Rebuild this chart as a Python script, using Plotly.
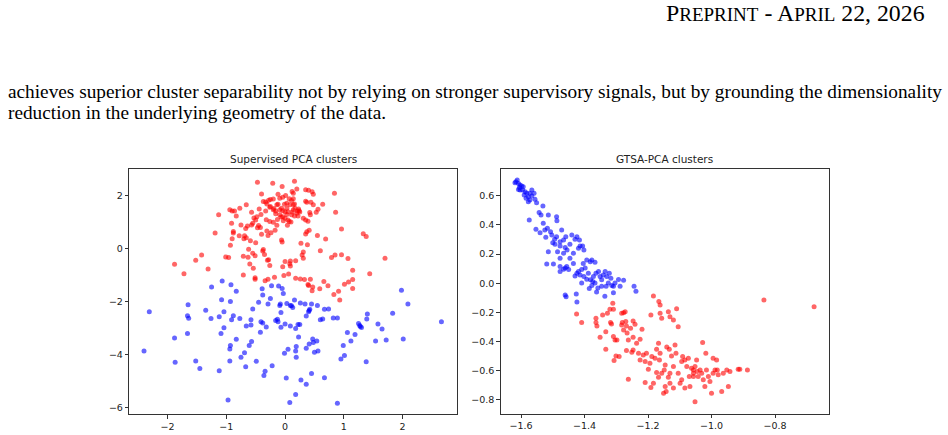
import plotly.graph_objects as go

# ---- Left panel: Supervised PCA clusters ----
spca_blue_x = [-2.31,-2.40,-1.88,-1.87,-1.65,-1.66,-1.64,-1.66,-1.52,-1.45,-1.35,-1.26,-1.25,-1.12,-1.12,-1.07,-1.08,-1.04,-1.09,-1.04,
 -0.97,-0.94,-0.93,-0.94,-0.93,-0.92,-0.88,-0.91,-0.83,-0.83,-0.75,-0.69,-0.67,-0.77,-0.66,-0.58,-0.58,-0.55,-0.57,-0.61,
 -0.49,-0.45,-0.39,-0.38,-0.41,-0.38,-0.42,-0.36,-0.34,-0.32,-0.29,-0.25,-0.23,-0.22,-0.16,-0.13,-0.12,-0.11,-0.05,-0.09,
 -0.08,-0.07,-0.07,-0.03,-0.01,0.00,0.02,0.03,0.05,0.08,0.09,0.09,0.11,0.13,0.16,0.18,0.18,0.19,0.18,0.19,
 0.22,0.23,0.25,0.26,0.27,0.34,0.36,0.36,0.36,0.41,0.41,0.42,0.40,0.45,0.45,0.47,0.48,0.50,0.54,0.55,
 0.56,0.60,0.64,0.67,0.67,0.74,0.82,0.89,0.89,0.95,1.01,0.99,1.06,1.12,1.19,1.25,1.27,1.30,1.28,1.38,
 1.39,1.40,1.54,1.58,1.65,1.72,1.83,1.98,2.01,2.09,2.66]
spca_blue_y = [-2.39,-3.87,-3.38,-4.30,-2.13,-2.54,-2.64,-3.21,-4.25,-4.53,-2.34,-2.65,-1.46,-4.62,-2.58,-1.23,-1.94,-2.39,-3.21,-3.00,
 -5.72,-3.80,-3.67,-4.25,-2.01,-1.38,-2.54,-2.70,-1.62,-3.43,-4.11,-3.94,-4.47,-2.65,-2.93,-2.89,-2.70,-2.29,-3.52,-3.67,
 -4.26,-2.04,-1.53,-1.76,-2.77,-2.82,-3.17,-4.80,-4.64,-2.97,-2.10,-1.89,-1.41,-4.43,-2.72,-2.68,-2.77,-1.42,-1.52,-2.16,
 -2.10,-2.42,-2.98,-1.71,-3.96,-2.86,-4.89,-2.08,-3.81,-5.82,-2.16,-2.93,-2.17,-2.23,-1.95,-3.03,-5.51,-3.70,-3.87,-4.11,
 -2.87,-3.35,-2.87,-2.06,-4.97,-2.10,-5.13,-2.55,-3.77,-3.61,-2.35,-2.30,-2.39,-2.10,-4.72,-3.42,-3.55,-3.92,-3.50,-2.16,
 -3.87,-2.70,-2.67,-4.88,-2.30,-2.29,-2.63,-2.63,-5.84,-4.18,-4.04,-3.67,-3.18,-3.50,-3.25,-2.84,-2.91,-2.99,-2.95,-4.28,
 -2.67,-2.48,-3.50,-2.86,-3.04,-3.46,-2.45,-1.58,-3.42,-2.10,-2.77]

spca_red_x = [-1.88,-1.72,-1.52,-1.42,-1.31,-1.19,-1.13,-1.01,-0.96,-0.94,-0.90,-0.93,-0.90,-0.88,-0.88,-0.91,-0.86,-0.83,-0.78,-0.77,
 -0.75,-0.71,-0.71,-0.69,-0.66,-0.70,-0.67,-0.66,-0.64,-0.63,-0.62,-0.60,-0.59,-0.57,-0.55,-0.57,-0.55,-0.54,-0.53,-0.51,
 -0.50,-0.51,-0.51,-0.48,-0.50,-0.47,-0.45,-0.44,-0.41,-0.47,-0.42,-0.40,-0.40,-0.38,-0.37,-0.35,-0.34,-0.33,-0.32,-0.31,
 -0.33,-0.30,-0.26,-0.28,-0.29,-0.29,-0.28,-0.25,-0.26,-0.25,-0.24,-0.21,-0.20,-0.20,-0.18,-0.17,-0.16,-0.19,-0.14,-0.12,
 -0.13,-0.12,-0.09,-0.07,-0.06,-0.05,-0.05,-0.04,-0.04,0.00,-0.03,-0.01,0.00,-0.02,0.03,0.04,0.06,0.07,0.07,0.08,
 0.09,0.09,0.10,0.12,0.12,0.14,0.14,0.16,0.16,0.16,0.18,0.18,0.20,0.22,0.23,0.21,0.25,0.26,0.27,0.29,
 0.31,0.31,0.31,0.33,0.35,0.37,0.35,0.35,0.37,0.35,0.38,0.39,0.40,0.40,0.39,0.41,0.42,0.43,0.44,0.48,
 0.46,0.48,0.47,0.43,0.46,0.53,0.55,0.56,0.59,0.60,0.64,0.66,0.69,0.73,0.79,0.83,0.84,0.85,0.86,0.91,
 0.93,0.96,0.96,1.01,1.07,1.08,1.15,1.15,1.15,1.33,1.38,1.44,1.70,
 -0.20,-0.16,-0.09,-0.06,0.03,0.05,0.11,0.14,0.17,0.20,0.24,-0.04,0.00,0.05,-0.09,-0.14,0.03,0.08,-0.04,0.01,
 0.11,0.14,-0.37,-0.31,-0.26]
spca_red_y = [-0.60,-0.96,-0.45,-0.25,-0.78,0.58,1.26,-0.33,-0.35,1.45,1.41,0.11,0.36,0.58,0.63,0.94,1.41,1.22,0.47,1.51,
 0.88,-1.01,-0.30,0.47,0.40,0.36,0.75,1.64,0.84,-0.34,-0.04,-0.59,0.28,1.36,-0.19,0.88,0.94,-0.75,1.14,-0.28,
 0.21,-1.11,-1.17,1.19,1.07,2.49,0.86,1.48,1.27,0.77,0.78,0.53,2.05,-0.10,-0.05,-0.23,-1.22,1.41,1.08,0.65,
 1.75,-0.45,-0.65,-0.43,-1.17,0.48,1.81,1.84,1.01,1.58,0.59,2.45,1.86,0.98,-1.09,0.68,1.41,1.50,0.87,2.04,
 1.09,1.66,1.89,1.18,0.31,0.24,2.33,-0.70,1.42,1.38,1.04,1.66,-0.50,-1.03,1.27,0.87,-0.97,1.87,1.01,-0.58,
 -0.67,-0.48,0.99,1.37,2.14,2.08,1.64,1.67,2.53,1.22,-0.47,-1.13,2.24,1.22,1.48,1.41,1.37,-1.16,0.19,-0.25,
 -0.38,-0.14,1.13,-1.18,1.77,1.74,2.21,0.54,0.62,1.07,0.13,-1.37,-1.40,2.19,1.02,0.68,1.35,1.26,1.74,1.64,
 2.13,2.04,-1.46,-1.17,-1.60,1.36,0.48,1.47,-1.53,-0.09,1.66,-1.25,0.35,-1.41,-0.35,-1.74,2.08,-0.25,1.36,-1.62,
 -1.95,-0.24,0.73,-1.36,-0.39,-1.27,-1.18,-0.83,-1.52,0.55,0.44,-0.96,-0.38,
 1.45,1.30,1.45,1.51,1.51,1.38,1.26,1.45,1.51,1.32,1.42,1.19,1.13,1.07,1.26,1.64,1.70,1.64,1.92,1.99,
 1.80,1.87,1.76,1.67,1.55]

# ---- Right panel: GTSA-PCA clusters ----
gtsa_blue_x = [-1.616,-1.612,-1.608,-1.603,-1.605,-1.598,-1.593,-1.595,-1.587,-1.603,-1.582,-1.590,-1.577,-1.572,-1.566,-1.584,-1.572,-1.559,-1.556,-1.551,
 -1.577,-1.608,-1.619,-1.566,-1.531,-1.574,-1.543,-1.537,-1.514,-1.530,-1.488,-1.487,-1.553,-1.540,-1.525,-1.517,-1.507,-1.522,-1.503,-1.494,
 -1.488,-1.477,-1.500,-1.493,-1.477,-1.472,-1.459,-1.466,-1.461,-1.485,-1.514,-1.519,-1.498,-1.477,-1.466,-1.455,-1.446,-1.440,-1.430,-1.424,
 -1.416,-1.414,-1.419,-1.406,-1.402,-1.435,-1.446,-1.435,-1.477,-1.466,-1.456,-1.477,-1.461,-1.450,-1.458,-1.461,-1.426,-1.424,-1.419,-1.414,
 -1.409,-1.404,-1.393,-1.382,-1.377,-1.367,-1.402,-1.393,-1.388,-1.381,-1.374,-1.372,-1.364,-1.356,-1.351,-1.346,-1.341,-1.335,-1.330,-1.322,
 -1.317,-1.314,-1.309,-1.304,-1.325,-1.332,-1.346,-1.358,-1.367,-1.377,-1.385,-1.362,-1.336,-1.309,-1.293,-1.277,-1.288,-1.244,-1.238,-1.409,
 -1.398,-1.430,-1.424]
gtsa_blue_y = [0.696,0.707,0.684,0.673,0.657,0.666,0.662,0.639,0.627,0.639,0.616,0.605,0.593,0.616,0.598,0.582,0.570,0.616,0.575,0.552,
 0.559,0.643,0.689,0.639,0.530,0.433,0.484,0.468,0.468,0.411,0.456,0.429,0.370,0.346,0.365,0.376,0.353,0.315,0.330,0.301,
 0.319,0.285,0.278,0.267,0.255,0.365,0.319,0.296,0.245,0.216,0.216,0.132,0.132,0.171,0.205,0.228,0.267,0.330,0.301,0.319,
 0.296,0.255,0.239,0.255,0.228,0.205,0.171,0.136,0.114,0.096,0.114,0.080,0.105,0.094,-0.092,-0.081,-0.074,-0.128,0.080,0.057,
 0.094,0.136,0.159,0.148,0.159,0.143,0.046,0.028,0.068,0.023,0.012,0.046,0.068,0.080,0.046,0.023,0.057,0.080,0.046,0.068,
 0.034,-0.016,-0.021,0.002,0.002,-0.021,-0.021,-0.032,0.002,-0.016,-0.037,-0.060,-0.090,-0.066,0.025,0.021,-0.021,-0.021,-0.055,0.002,
 0.105,0.050,0.068]

gtsa_red_x = [-0.677,-0.835,-1.425,-1.409,-1.364,-1.364,-1.361,-1.351,-1.343,-1.333,-1.333,-1.328,-1.320,-1.318,-1.311,-1.309,-1.315,-1.309,-1.304,-1.301,
 -1.307,-1.291,-1.283,-1.277,-1.272,-1.281,-1.277,-1.283,-1.270,-1.268,-1.266,-1.262,-1.255,-1.247,-1.241,-1.236,-1.247,-1.268,-1.262,-1.225,
 -1.219,-1.215,-1.209,-1.205,-1.194,-1.191,-1.183,-1.199,-1.188,-1.178,-1.173,-1.173,-1.166,-1.162,-1.162,-1.157,-1.167,-1.162,-1.164,-1.167,
 -1.157,-1.209,-1.191,-1.183,-1.146,-1.149,-1.143,-1.141,-1.133,-1.136,-1.131,-1.120,-1.110,-1.105,-1.126,-1.115,-1.112,-1.120,-1.131,-1.136,
 -1.131,-1.120,-1.105,-1.099,-1.094,-1.091,-1.084,-1.078,-1.073,-1.070,-1.068,-1.057,-1.052,-1.063,-1.057,-1.047,-1.045,-1.042,-1.052,-1.036,
 -1.031,-1.026,-1.028,-1.018,-1.016,-1.021,-1.010,-1.005,-1.000,-0.995,-0.984,-0.982,-0.979,-0.968,-0.963,-0.952,-0.947,-0.942,-0.916,-0.911,
 -0.887,-0.995,-0.989,-1.146,-1.151,-1.094,-1.084,-1.057,-1.225,-1.230,-1.251,-1.298,-1.247]
gtsa_red_y = [-0.161,-0.115,-0.211,-0.270,-0.240,-0.270,-0.293,-0.370,-0.218,-0.332,-0.453,-0.206,-0.179,-0.270,-0.138,-0.179,-0.279,-0.366,-0.389,-0.499,
 -0.530,-0.503,-0.206,-0.202,-0.195,-0.270,-0.320,-0.286,-0.263,-0.293,-0.341,-0.389,-0.309,-0.370,-0.282,-0.412,-0.457,-0.462,-0.658,-0.384,
 -0.316,-0.492,-0.537,-0.480,-0.548,-0.218,-0.087,-0.590,-0.503,-0.514,-0.453,-0.612,-0.126,-0.150,-0.206,-0.240,-0.412,-0.480,-0.526,-0.644,
 -0.617,-0.681,-0.715,-0.685,-0.560,-0.594,-0.743,-0.437,-0.453,-0.195,-0.229,-0.252,-0.175,-0.298,-0.499,-0.423,-0.480,-0.571,-0.617,-0.644,
 -0.685,-0.719,-0.617,-0.685,-0.537,-0.503,-0.526,-0.571,-0.514,-0.640,-0.708,-0.594,-0.571,-0.582,-0.617,-0.526,-0.605,-0.640,-0.812,-0.594,
 -0.617,-0.662,-0.407,-0.480,-0.594,-0.708,-0.640,-0.674,-0.754,-0.514,-0.526,-0.594,-0.628,-0.742,-0.617,-0.594,-0.708,-0.605,-0.589,-0.589,
 -0.594,-0.617,-0.594,-0.708,-0.754,-0.662,-0.719,-0.640,-0.526,-0.480,-0.473,-0.389,-0.259]

# header in small caps: (large initial, rest small) segments
header_parts = [("P", "big"), ("REPRINT", "small"), (" - ", "big"), ("A", "big"), ("PRIL", "small"), (" 22, 2026", "big")]
para_line1 = "achieves superior cluster separability not by relying on stronger supervisory signals, but by grounding the dimensionality"
para_line2 = "reduction in the underlying geometry of the data."
title_left = "Supervised PCA clusters"
title_right = "GTSA-PCA clusters"

fig = go.Figure()
mk = dict(size=5, opacity=0.6, line=dict(width=0))
fig.add_trace(go.Scatter(x=spca_red_x, y=spca_red_y, mode="markers", marker=dict(color="red", **mk), xaxis="x", yaxis="y"))
fig.add_trace(go.Scatter(x=spca_blue_x, y=spca_blue_y, mode="markers", marker=dict(color="blue", **mk), xaxis="x", yaxis="y"))
fig.add_trace(go.Scatter(x=gtsa_red_x, y=gtsa_red_y, mode="markers", marker=dict(color="red", **mk), xaxis="x2", yaxis="y2"))
fig.add_trace(go.Scatter(x=gtsa_blue_x, y=gtsa_blue_y, mode="markers", marker=dict(color="blue", **mk), xaxis="x2", yaxis="y2"))

W, H = 948, 435
def dx(px): return px / W
def dy(py): return (H - py) / H

axis_common = dict(showgrid=False, zeroline=False, showline=True, mirror=True, linecolor="#333333", linewidth=1,
                   ticks="outside", ticklen=3.5, tickwidth=0.8, tickcolor="#333333",
                   tickfont=dict(family="DejaVu Sans", size=9.5, color="#222222"))

fig.update_layout(
    width=W, height=H, margin=dict(l=0, r=0, t=0, b=0),
    paper_bgcolor="white", plot_bgcolor="white", showlegend=False,
    xaxis=dict(domain=[dx(129.3), dx(457.3)], range=[-2.65, 2.93], anchor="y",
               tickvals=[-2, -1, 0, 1, 2], **axis_common),
    yaxis=dict(domain=[dy(414), dy(169)], range=[-6.25, 2.99], anchor="x",
               tickvals=[-6, -4, -2, 0, 2], **axis_common),
    xaxis2=dict(domain=[dx(500.7), dx(828.7)], range=[-1.664, -0.631], anchor="y2",
                tickvals=[-1.6, -1.4, -1.2, -1.0, -0.8], tickformat=".1f", **axis_common),
    yaxis2=dict(domain=[dy(413.5), dy(169)], range=[-0.893, 0.783], anchor="x2",
                tickvals=[-0.8, -0.6, -0.4, -0.2, 0.0, 0.2, 0.4, 0.6], tickformat=".1f", **axis_common),
)

serif = "Liberation Serif"
big_sz, small_sz = 23.8, 19
header_html = "".join(
    t if kind == "big" else f"<span style='font-size:{small_sz}px'>{t}</span>" for t, kind in header_parts)
fig.add_annotation(x=dx(927), y=dy(13), xref="paper", yref="paper", xanchor="right", yanchor="middle",
                   text=header_html, showarrow=False,
                   font=dict(family=serif, size=big_sz, color="black"))
fig.add_annotation(x=dx(6), y=dy(91), xref="paper", yref="paper", xanchor="left", yanchor="middle",
                   text=para_line1, showarrow=False, font=dict(family=serif, size=19.3, color="black"))
fig.add_annotation(x=dx(6), y=dy(112), xref="paper", yref="paper", xanchor="left", yanchor="middle",
                   text=para_line2, showarrow=False, font=dict(family=serif, size=19.3, color="black"))
fig.add_annotation(x=dx(293.3), y=dy(159), xref="paper", yref="paper", xanchor="center", yanchor="middle",
                   text=title_left, showarrow=False, font=dict(family="DejaVu Sans", size=10.5, color="#222222"))
fig.add_annotation(x=dx(664.7), y=dy(159), xref="paper", yref="paper", xanchor="center", yanchor="middle",
                   text=title_right, showarrow=False, font=dict(family="DejaVu Sans", size=10.5, color="#222222"))

fig.write_html("out.html")
